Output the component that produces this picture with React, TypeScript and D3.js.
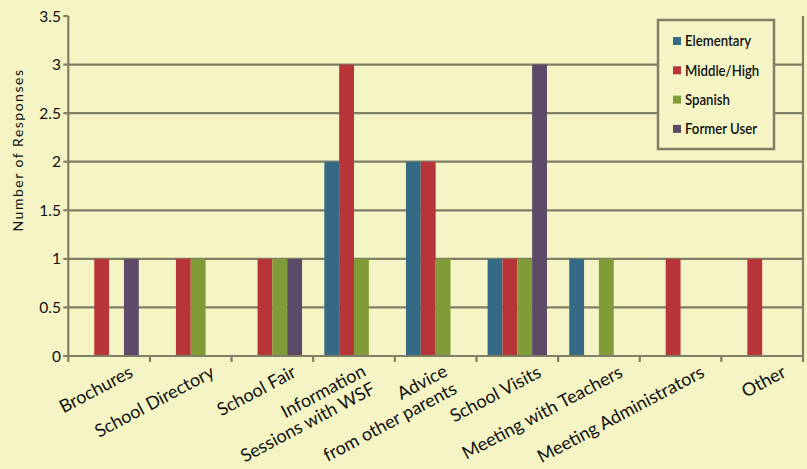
import React from "react";
import * as d3 from "d3";

const categories = [
  "Brochures",
  "School Directory",
  "School Fair",
  "Information\nSessions with WSF",
  "Advice\nfrom other parents",
  "School Visits",
  "Meeting with Teachers",
  "Meeting Administrators",
  "Other",
];
const seriesNames = ["Elementary", "Middle/High", "Spanish", "Former User"];
const elementary = [0, 0, 0, 2, 2, 1, 1, 0, 0];
const middleHigh = [1, 1, 1, 3, 2, 1, 0, 1, 1];
const spanish = [0, 1, 1, 1, 1, 1, 1, 0, 0];
const formerUser = [1, 0, 1, 0, 0, 3, 0, 0, 0];
const yTicks = [0, 0.5, 1, 1.5, 2, 2.5, 3, 3.5];
const colors = ["#346a85", "#b73538", "#819b38", "#5d4a66"];

const W = 807;
const H = 469;
const BG = "#f4f4c4";
const GRID = "#7f7f66";
const FONT = "Lato, 'Open Sans', sans-serif";

export default function App() {
  const values = [elementary, middleHigh, spanish, formerUser];
  const x0 = d3.scaleBand<string>().domain(categories).range([68.3, 803]).paddingInner(0).paddingOuter(0);
  const x1 = d3.scaleBand<string>().domain(seriesNames).range([0, x0.bandwidth()]).paddingInner(0).paddingOuter(0.75);
  const y = d3.scaleLinear().domain([0, 3.5]).range([356, 16]);
  const left = x0.range()[0];
  const right = x0.range()[1];
  const angle = -28;

  return (
    <svg width={W} height={H} style={{ position: "absolute", left: 0, top: 0, background: BG }}>
      <rect x={0} y={0} width={W} height={H} fill={BG} />
      {yTicks.filter((t) => t > 0 && t < 3.5).map((t) => (
        <line key={t} x1={left} x2={right} y1={y(t)} y2={y(t)} stroke={GRID} strokeWidth={2.2} />
      ))}
      {categories.map((c, i) => (
        <g key={c} transform={`translate(${x0(c)},0)`}>
          {seriesNames.map((s, j) =>
            values[j][i] > 0 ? (
              <rect key={s} x={x1(s)} y={y(values[j][i])} width={x1.bandwidth()} height={y(0) - y(values[j][i])} fill={colors[j]} />
            ) : null
          )}
        </g>
      ))}
      <line x1={left} x2={left} y1={y(3.5)} y2={y(0) + 1} stroke={GRID} strokeWidth={2.2} />
      <line x1={right} x2={right} y1={y(3.5)} y2={y(0) + 1} stroke={GRID} strokeWidth={2.2} />
      <line x1={left - 5} x2={right + 1} y1={y(0)} y2={y(0)} stroke={GRID} strokeWidth={2.2} />
      {yTicks.map((t) => (
        <g key={t}>
          <line x1={left - 5} x2={left} y1={y(t)} y2={y(t)} stroke={GRID} strokeWidth={2.2} />
          <text x={61} y={y(t)} dy="0.36em" textAnchor="end" fontFamily={FONT} fontSize={15.5} fill="#111">
            {String(t)}
          </text>
        </g>
      ))}
      {[...categories.map((c) => x0(c) as number), right].map((xv, i) => (
        <line key={i} x1={xv} x2={xv} y1={y(0)} y2={y(0) + 6} stroke={GRID} strokeWidth={2.2} />
      ))}
      {categories.map((c) => {
        const lines = c.split("\n");
        const multi = lines.length > 1;
        const cx = (x0(c) as number) + x0.bandwidth() / 2 + (multi ? 13 : 25);
        const cy = multi ? 375 : 376;
        return (
          <text key={c} transform={`translate(${cx},${cy}) rotate(${angle})`} textAnchor="end" fontFamily={FONT} fontSize={18} fill="#111">
            {lines.map((l, k) => (
              <tspan key={k} x={0} dy={k === 0 ? 0 : 20}>{l}</tspan>
            ))}
          </text>
        );
      })}
      <text transform={`translate(23,150) rotate(-90)`} textAnchor="middle" fontFamily={FONT} fontSize={14} letterSpacing={1.5} fill="#111">
        Number of Responses
      </text>
      <g>
        <rect x={658} y={20} width={116} height={129} fill={BG} stroke={GRID} strokeWidth={2.5} />
        {seriesNames.map((s, j) => (
          <g key={s} transform={`translate(673,${41 + j * 29.3})`}>
            <rect x={0} y={-4} width={8} height={8} fill={colors[j]} />
            <text transform="translate(12,0) scale(0.88,1)" dy="0.36em" fontFamily={FONT} fontWeight={600} fontSize={15} fill="#111">
              {s}
            </text>
          </g>
        ))}
      </g>
    </svg>
  );
}
